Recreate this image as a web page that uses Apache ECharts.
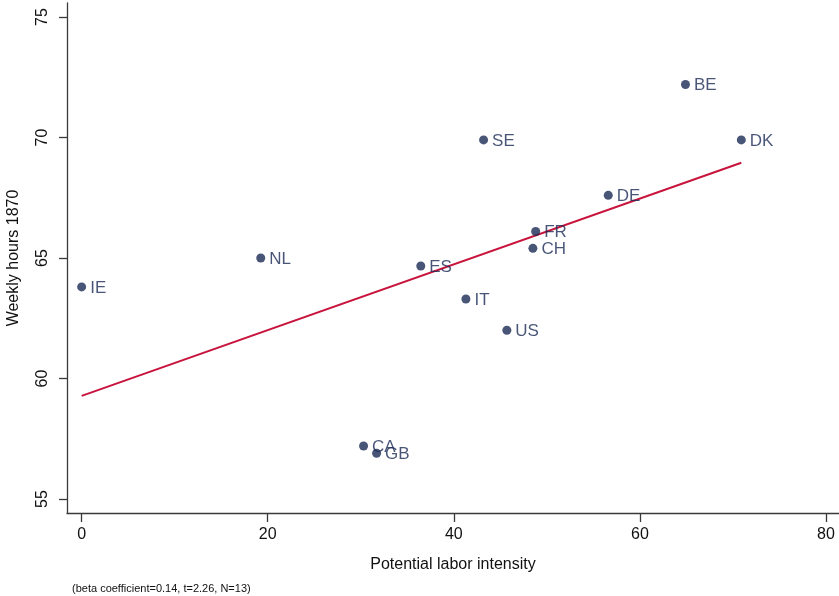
<!DOCTYPE html>
<html>
<head>
<meta charset="utf-8">
<script src="https://cdn.jsdelivr.net/npm/echarts@6/dist/echarts.min.js"></script>
<style>
  html, body { margin: 0; padding: 0; background: #fff; }
  #chart { width: 839px; height: 596px; }
</style>
</head>
<body>
<div id="chart"></div>
<script>
// Country codes, potential labor intensity (x) and weekly hours in 1870 (y)
const countries = ['IE', 'NL', 'ES', 'IT', 'SE', 'US', 'CH', 'FR', 'DE', 'BE', 'DK', 'CA', 'GB'];
const laborIntensity = [0, 19.25, 36.45, 41.3, 43.2, 45.7, 48.5, 48.8, 56.6, 64.9, 70.9, 30.3, 31.7];
const weeklyHours = [63.8, 65.0, 64.67, 63.3, 69.9, 62.0, 65.4, 66.1, 67.6, 72.2, 69.9, 57.2, 56.9];

// Tick labels
const xTicks = [0, 20, 40, 60, 80];
const yTicks = [55, 60, 65, 70, 75];

const noteText = '(beta coefficient=0.14, t=2.26, N=13)';

// Ordinary least squares fit, drawn across the observed x range
function olsLine(xs, ys) {
  const n = xs.length;
  const mx = xs.reduce((a, b) => a + b, 0) / n;
  const my = ys.reduce((a, b) => a + b, 0) / n;
  let sxy = 0, sxx = 0;
  for (let i = 0; i < n; i++) {
    sxy += (xs[i] - mx) * (ys[i] - my);
    sxx += (xs[i] - mx) * (xs[i] - mx);
  }
  const b = sxy / sxx;
  const a = my - b * mx;
  const x0 = Math.min(...xs), x1 = Math.max(...xs);
  return [[x0, a + b * x0], [x1, a + b * x1]];
}

const points = countries.map((c, i) => ({ name: c, value: [laborIntensity[i], weeklyHours[i]] }));
const fit = olsLine(laborIntensity, weeklyHours);

const font = 'Liberation Sans, Arial, Helvetica, sans-serif';
const axisColor = '#3a3a3a';
const markColor = '#1a2a55';

const chart = echarts.init(document.getElementById('chart'), null, { renderer: 'canvas' });
chart.setOption({
  animation: false,
  backgroundColor: '#ffffff',
  grid: { left: 67, right: 0, top: 3, bottom: 83, containLabel: false, outerBoundsMode: 'none' },
  xAxis: {
    type: 'value',
    min: -1.575,
    max: 81.4,
    name: 'Potential labor intensity',
    nameLocation: 'middle',
    nameGap: 44,
    nameTextStyle: { fontFamily: font, fontSize: 16, color: '#111' },
    axisLine: { show: true, onZero: false, lineStyle: { color: axisColor, width: 1.3 } },
    axisTick: { show: true, length: 9, customValues: xTicks, lineStyle: { color: axisColor, width: 1.3 } },
    axisLabel: { customValues: xTicks, margin: 14, fontFamily: font, fontSize: 16, color: '#111' },
    splitLine: { show: false }
  },
  yAxis: {
    type: 'value',
    min: 54.42,
    max: 75.58,
    name: 'Weekly hours 1870',
    nameLocation: 'middle',
    nameGap: 45,
    nameRotate: 90,
    nameTextStyle: { fontFamily: font, fontSize: 16, color: '#111' },
    axisLine: { show: true, onZero: false, lineStyle: { color: axisColor, width: 1.3 } },
    axisTick: { show: true, length: 8, customValues: yTicks, lineStyle: { color: axisColor, width: 1.3 } },
    axisLabel: { customValues: yTicks, rotate: 90, margin: 16, fontFamily: font, fontSize: 16, color: '#111' },
    splitLine: { show: false }
  },
  series: [
    {
      type: 'line',
      data: fit,
      symbol: 'none',
      lineStyle: { color: '#c8143c', width: 2 },
      z: 1,
      silent: true
    },
    {
      type: 'scatter',
      data: points,
      symbol: 'circle',
      symbolSize: 9,
      itemStyle: { color: markColor },
      label: {
        show: true,
        position: 'right',
        distance: 4,
        offset: [0, 1],
        formatter: p => p.name,
        fontFamily: font,
        fontSize: 17,
        color: markColor
      },
      z: 2
    }
  ],
  graphic: [
    {
      type: 'text',
      left: 72,
      top: 583,
      style: { text: noteText, fontFamily: font, fontSize: 11, fill: '#111' }
    }
  ]
});
</script>
</body>
</html>
